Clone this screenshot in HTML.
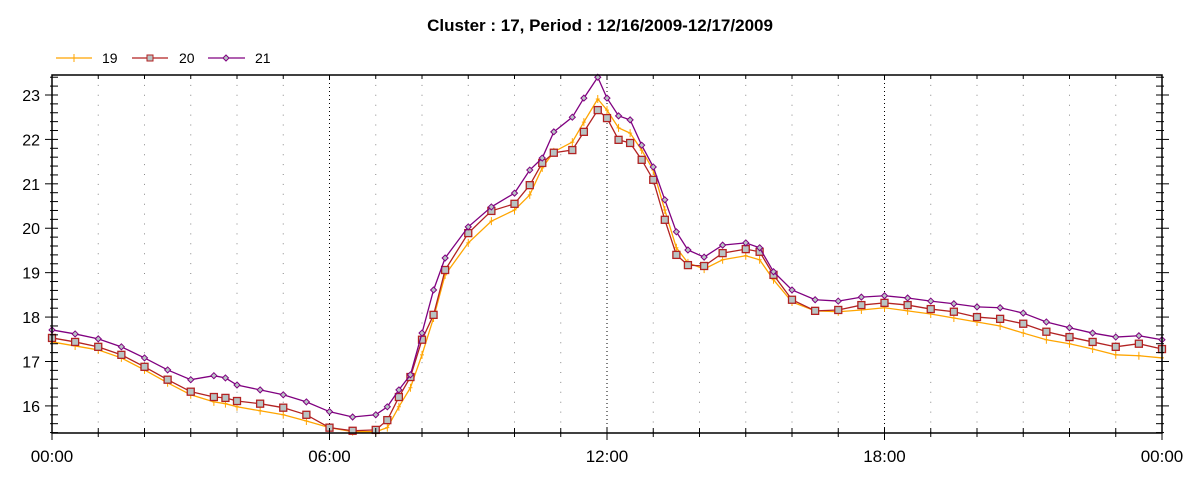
<!DOCTYPE html>
<html><head><meta charset="utf-8"><style>
body{margin:0;background:#fff;font-family:"Liberation Sans",sans-serif}
svg text{font-family:"Liberation Sans",sans-serif}
</style></head><body>
<svg id="chart" width="1200" height="480" xmlns="http://www.w3.org/2000/svg">
<text x="600" y="31" text-anchor="middle" font-size="17" font-weight="bold">Cluster : 17, Period : 12/16/2009-12/17/2009</text>
<g id="legend">
<g><line x1="56" y1="58" x2="92" y2="58" stroke="#ffa500" stroke-width="1.3"/><line x1="74" y1="54" x2="74" y2="62" stroke="#ffa500"/><text x="102" y="63" font-size="14">19</text></g>
<g><line x1="132" y1="58" x2="168" y2="58" stroke="#b22222" stroke-width="1.3"/><rect x="147" y="55" width="6" height="6" fill="#b8c4c4" stroke="#b22222"/><text x="179" y="63" font-size="14">20</text></g>
<g><line x1="208" y1="58" x2="245" y2="58" stroke="#800080" stroke-width="1.3"/><path d="M226 55 L229 58 L226 61 L223 58Z" fill="#b8c4c4" stroke="#800080"/><text x="255" y="63" font-size="14">21</text></g>
</g>
<g id="grid"></g>
<g id="series"></g>
<g id="axes"></g>
</svg>
<script>
const times=[0,0.5,1,1.5,2,2.5,3,3.5,3.75,4,4.5,5,5.5,6,6.5,7,7.25,7.5,7.75,8,8.25,8.5,9,9.5,10,10.33,10.6,10.85,11.25,11.5,11.8,12,12.25,12.5,12.75,13,13.25,13.5,13.75,14.1,14.5,15,15.3,15.6,16,16.5,17,17.5,18,18.5,19,19.5,20,20.5,21,21.5,22,22.5,23,23.5,24];
const s19=[17.44,17.35,17.26,17.08,16.81,16.52,16.25,16.09,16.05,15.98,15.89,15.80,15.66,15.51,15.42,15.42,15.51,15.98,16.41,17.15,17.98,18.95,19.67,20.16,20.41,20.75,21.36,21.72,21.94,22.39,22.91,22.66,22.26,22.14,21.76,21.31,20.41,19.56,19.22,19.08,19.29,19.38,19.29,18.84,18.34,18.14,18.12,18.16,18.21,18.14,18.07,17.98,17.89,17.80,17.64,17.49,17.40,17.28,17.15,17.13,17.08];
const s20=[17.53,17.44,17.33,17.15,16.88,16.59,16.32,16.20,16.18,16.11,16.05,15.96,15.80,15.51,15.44,15.46,15.68,16.20,16.65,17.49,18.05,19.06,19.89,20.39,20.55,20.97,21.47,21.70,21.76,22.17,22.66,22.48,21.99,21.92,21.54,21.09,20.19,19.40,19.17,19.15,19.44,19.53,19.47,18.95,18.39,18.14,18.16,18.27,18.32,18.27,18.18,18.12,18.00,17.96,17.85,17.67,17.55,17.44,17.33,17.40,17.28];
const s21=[17.71,17.62,17.51,17.33,17.08,16.81,16.59,16.68,16.63,16.47,16.36,16.25,16.09,15.87,15.75,15.80,15.98,16.36,16.70,17.64,18.61,19.33,20.03,20.48,20.79,21.31,21.58,22.17,22.50,22.93,23.40,22.93,22.53,22.44,21.87,21.38,20.64,19.92,19.51,19.35,19.62,19.67,19.56,19.02,18.61,18.39,18.36,18.45,18.48,18.43,18.36,18.30,18.23,18.21,18.09,17.89,17.76,17.64,17.55,17.58,17.49];
const yTicks=[16,17,18,19,20,21,22,23];
const xTickLabels=["00:00","06:00","12:00","18:00","00:00"];
const X0=52,X1=1162,Y0=75,Y1=433,YMIN=15.39,YMAX=23.45,HOURS=24;
const NS="http://www.w3.org/2000/svg";
function xs(h){return X0+(X1-X0)*h/HOURS;}
function ys(v){return Y1-(Y1-Y0)*(v-YMIN)/(YMAX-YMIN);}
function mk(tag,attrs,parent){const e=document.createElementNS(NS,tag);for(const k in attrs)e.setAttribute(k,attrs[k]);parent.appendChild(e);return e;}
const grid=document.getElementById('grid'),axes=document.getElementById('axes'),ser=document.getElementById('series');
for(let h=1;h<HOURS;h++){
  const major=h%6===0;
  const l=mk('line',{x1:xs(h),x2:xs(h),y1:Y0,y2:Y1,stroke:major?'#000':'#888','stroke-width':1,'stroke-dasharray':major?'1 3':'1 8.9'},grid);
  
  
}
const frame=mk('rect',{x:X0,y:Y0,width:X1-X0,height:Y1-Y0,fill:'none',stroke:'#000','stroke-width':1.5},axes);


for(let v=15.4;v<=23.45;v+=0.2){
  const vv=Math.round(v*10)/10;const major=Math.abs(vv-Math.round(vv))<0.01;
  mk('line',{x1:major?X0-7:X0-2,x2:X0+6,y1:ys(vv),y2:ys(vv),stroke:'#000'},axes);
  mk('line',{x1:X1-6,x2:major?X1+7:X1+2,y1:ys(vv),y2:ys(vv),stroke:'#000'},axes);
}
yTicks.forEach(t=>{
  const tx=mk('text',{x:X0-12,y:ys(t)+6,'text-anchor':'end','font-size':16},axes);
  tx.textContent=t;
  
  
});
for(let h=0;h<=HOURS;h++){
  mk('line',{x1:xs(h),x2:xs(h),y1:Y1-5,y2:Y1+(h%6===0?7:4),stroke:'#000'},axes);
  mk('line',{x1:xs(h),x2:xs(h),y1:Y0,y2:Y0+4,stroke:'#000'},axes);
}
xTickLabels.forEach((t,i)=>{
  const tx=mk('text',{x:xs(i*6),y:462,'text-anchor':'middle','font-size':17},axes);
  tx.textContent=t;
  
  
});
function drawSeries(vals,color,name,marker){
  const g=mk('g',{},ser);
  
  
  const pts=vals.map((v,i)=>xs(times[i])+','+ys(v)).join(' ');
  mk('polyline',{points:pts,fill:'none',stroke:color,'stroke-width':1.3},g);
  vals.forEach((v,i)=>{
    const x=xs(times[i]),y=ys(v);let m;
    if(marker==='plus')m=mk('path',{d:`M${x} ${y-4}V${y+4}M${x-2} ${y}H${x+2}`,stroke:color,fill:'none'},g);
    else if(marker==='square')m=mk('rect',{x:x-3.5,y:y-3.5,width:7,height:7,fill:'#b8c4c4',stroke:color,'stroke-width':1.3},g);
    else m=mk('path',{d:`M${x} ${y-3}L${x+3} ${y}L${x} ${y+3}L${x-3} ${y}Z`,fill:'#b8c4c4',stroke:color},g);
    
    
  });
}
drawSeries(s19,'#ffa500','series-19','plus');
drawSeries(s20,'#b22222','series-20','square');
drawSeries(s21,'#800080','series-21','diamond');
</script>
</body></html>
